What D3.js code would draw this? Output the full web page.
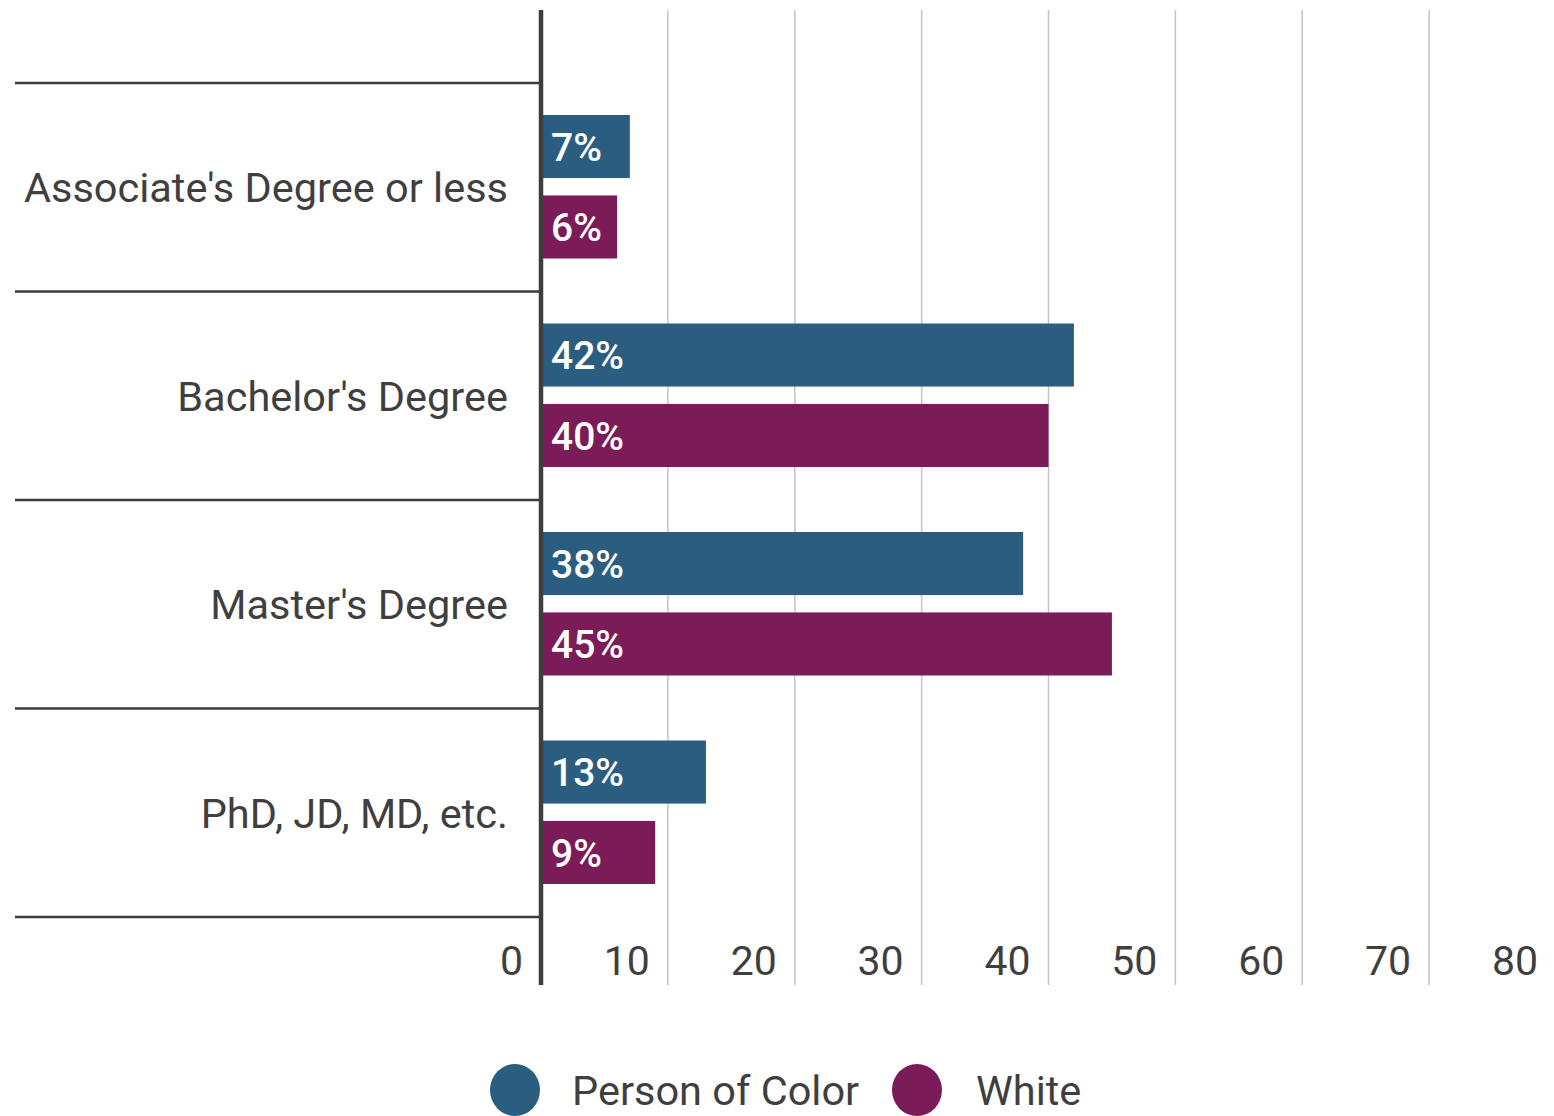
<!DOCTYPE html>
<html>
<head>
<meta charset="utf-8">
<script src="https://cdn.jsdelivr.net/npm/d3@7"></script>
<style>
  html, body { margin: 0; padding: 0; background: #fff; }
  svg { display: block; font-family: Roboto, "Noto Sans", sans-serif; }
</style>
</head>
<body>
<svg id="chart" width="1554" height="1116"></svg>
<script>
// Highest degree attained, share of respondents by group
const categories = ["Associate's Degree or less", "Bachelor's Degree", "Master's Degree", "PhD, JD, MD, etc."];
const seriesNames = ["Person of Color", "White"];
const personOfColor = [7, 42, 38, 13];
const white = [6, 40, 45, 9];
const xTicks = [0, 10, 20, 30, 40, 50, 60, 70, 80];
const colors = ["#2b5d80", "#7b1c58"];

const svg = d3.select("#chart");
const x = d3.scaleLinear().domain([0, 80]).range([541, 1556]);
const y = d3.scaleBand().domain(categories).range([83, 917]);
const inner = d3.scaleBand().domain(seriesNames).range([32, y.bandwidth() - 33]).paddingInner(0.216);

const plotTop = 10, plotBottom = 985;
const textColor = "#3f3f3f";

// vertical gridlines
svg.append("g").selectAll("line")
  .data(xTicks.filter(d => d > 0))
  .join("line")
  .attr("x1", d => x(d)).attr("x2", d => x(d))
  .attr("y1", plotTop).attr("y2", plotBottom)
  .attr("stroke", "#c4c4c4").attr("stroke-width", 1.5);

// category separators
const sepYs = categories.map(c => y(c)).concat([y.range()[1]]);
svg.append("g").selectAll("line")
  .data(sepYs)
  .join("line")
  .attr("x1", 15).attr("x2", x(0))
  .attr("y1", d => d).attr("y2", d => d)
  .attr("stroke", "#3d3d3d").attr("stroke-width", 2.5);

// bars
const rows = categories.map((c, i) => ({
  cat: c,
  vals: [
    { series: seriesNames[0], value: personOfColor[i], color: colors[0] },
    { series: seriesNames[1], value: white[i], color: colors[1] }
  ]
}));

const groups = svg.append("g").selectAll("g")
  .data(rows)
  .join("g")
  .attr("transform", d => `translate(0,${y(d.cat)})`);

groups.selectAll("rect")
  .data(d => d.vals)
  .join("rect")
  .attr("x", x(0))
  .attr("y", d => inner(d.series))
  .attr("width", d => x(d.value) - x(0))
  .attr("height", inner.bandwidth())
  .attr("fill", d => d.color);

groups.selectAll("text")
  .data(d => d.vals)
  .join("text")
  .attr("x", x(0) + 10)
  .attr("y", d => inner(d.series) + inner.bandwidth() / 2)
  .attr("dy", "0.36em")
  .attr("fill", "#fff")
  .attr("font-size", 39)
  .attr("font-weight", 500)
  .text(d => d.value + "%");

// category labels
svg.append("g").selectAll("text")
  .data(categories)
  .join("text")
  .attr("x", 508)
  .attr("y", d => y(d) + y.bandwidth() / 2)
  .attr("dy", "0.36em")
  .attr("text-anchor", "end")
  .attr("fill", textColor)
  .attr("font-size", 41.5)
  .text(d => d);

// x axis labels, right-aligned just left of each gridline
svg.append("g").selectAll("text")
  .data(xTicks)
  .join("text")
  .attr("x", d => x(d) - 18)
  .attr("y", 975)
  .attr("text-anchor", "end")
  .attr("fill", textColor)
  .attr("font-size", 41)
  .text(d => d);

// zero axis line
svg.append("line")
  .attr("x1", x(0)).attr("x2", x(0))
  .attr("y1", plotTop).attr("y2", plotBottom)
  .attr("stroke", "#3d3d3d").attr("stroke-width", 4.5);

// legend
const legend = svg.append("g");
const legendItems = [
  { name: seriesNames[0], color: colors[0], cx: 515, tx: 572 },
  { name: seriesNames[1], color: colors[1], cx: 917, tx: 976 }
];
legend.selectAll("ellipse")
  .data(legendItems)
  .join("ellipse")
  .attr("cx", d => d.cx).attr("cy", 1090)
  .attr("rx", 25).attr("ry", 26)
  .attr("fill", d => d.color);
legend.selectAll("text")
  .data(legendItems)
  .join("text")
  .attr("x", d => d.tx).attr("y", 1090)
  .attr("dy", "0.36em")
  .attr("fill", textColor)
  .attr("font-size", 41.5)
  .text(d => d.name);
</script>
</body>
</html>
